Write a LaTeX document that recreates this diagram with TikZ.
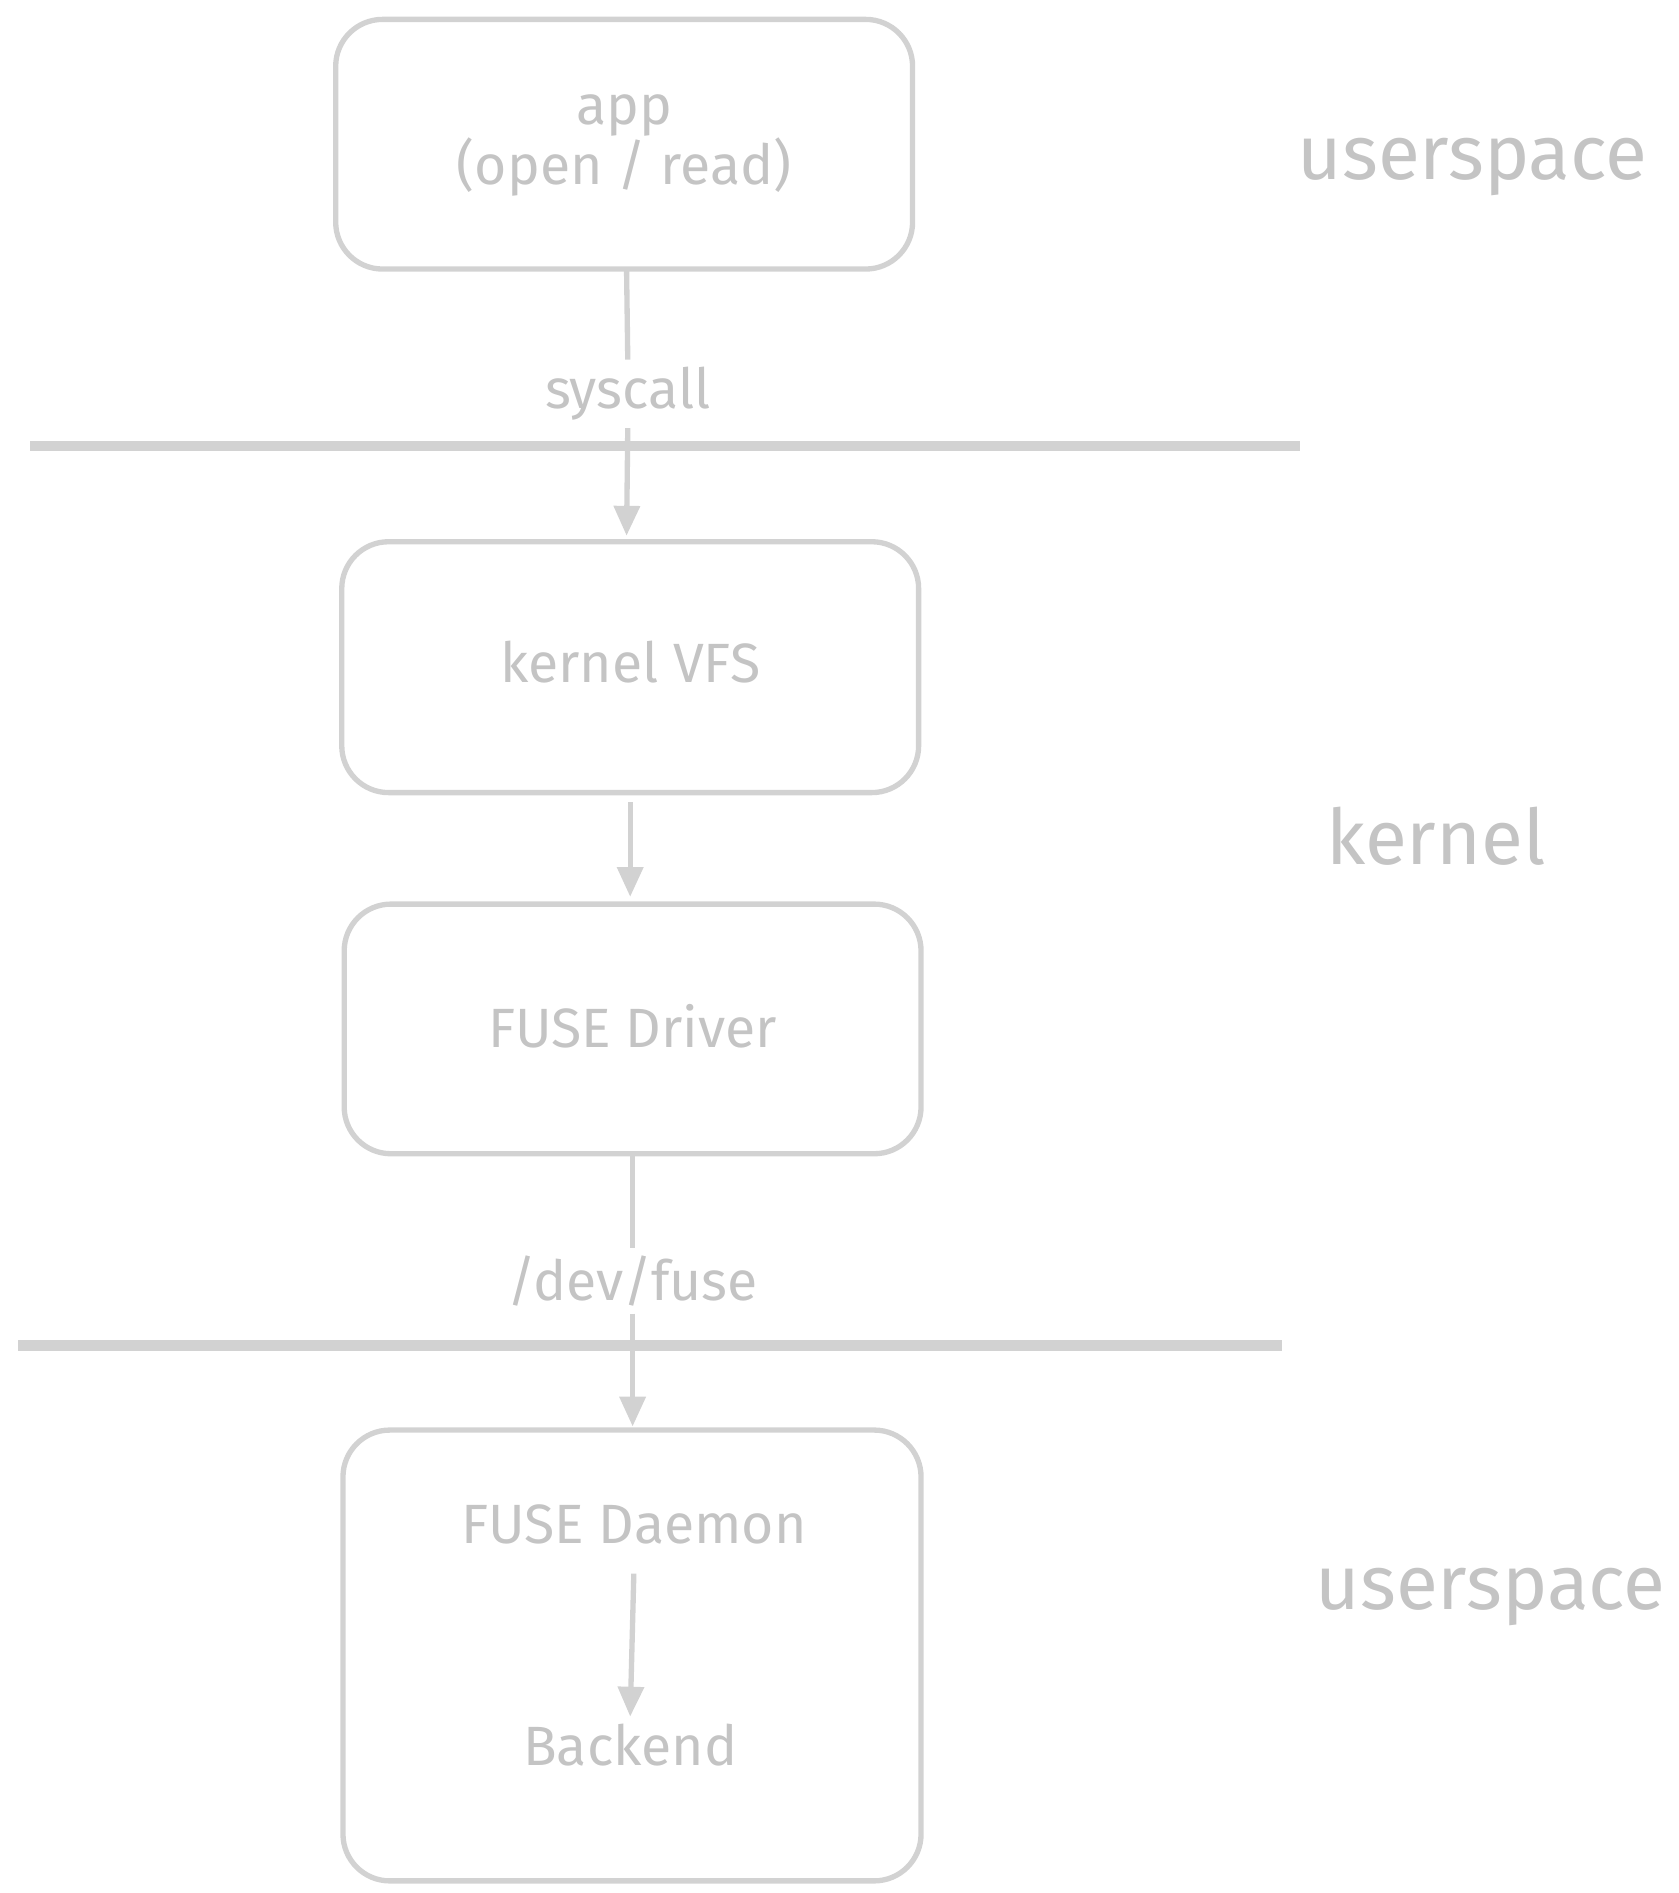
\documentclass[tikz,border=0pt]{standalone}
\usepackage{fontspec}
\setmainfont{Fira Sans}
\usepackage{tikz}
\usetikzlibrary{arrows.meta}
\definecolor{sketch}{HTML}{D2D2D2}
\definecolor{ink}{HTML}{C4C4C4}

\tikzset{
  box/.style={draw=sketch, line width=2.5pt, rounded corners=22pt, anchor=north west},
  lbl/.style={text=ink, font=\fontsize{26}{32}\selectfont, align=center},
  side/.style={text=ink, font=\fontsize{36}{40}\selectfont},
  flow/.style={draw=sketch, line width=2.5pt},
  arr/.style={flow, -{Triangle[length=14pt,width=12pt]}},
  layer/.style={draw=sketch, line width=5pt}
}

\begin{document}
\begin{tikzpicture}[x=0.02cm, y=-0.02cm]
\useasboundingbox (0,0) rectangle (1385,1562);

% boxes
\draw[box] (277,16) rectangle (753,222);
\draw[box] (282,447) rectangle (758,654);
\draw[box] (284,746) rectangle (760,952);
\draw[box] (283,1180) rectangle (760,1552);

\path
(515,120) node[lbl](app) {app\\[-4pt](open / read)}
(520,546) node[lbl](vfs) {kernel VFS}
(522,847) node[lbl](driver) {FUSE Driver}
(523,1258) node[lbl](daemon) {FUSE Daemon}
(520,1440) node[lbl](backend) {Backend}
(518,325) node[lbl](syscall) {syscall}
(522,1057) node[lbl](devfuse) {/dev/fuse};

%% layer names
\path
(1215,138) node[side](usertop) {userspace}
(1185,690) node[side](kern) {kernel}
(1230,1318) node[side](userbot) {userspace};

%% layer borders
\draw[layer] (25,368) -- (1073,368);
\draw[layer] (15,1110) -- (1058,1110);

%% connectors
\coordinate (appbot) at (517,222);
\coordinate (vfstop) at (517,442);
\coordinate (vfsbot) at (520,662);
\coordinate (drvtop) at (520,740);
\coordinate (drvbot) at (522,952);
\coordinate (dmntop) at (522,1177);
\draw[flow] (appbot) -- (syscall.north);
\draw[arr] (syscall.south) -- (vfstop);
\draw[arr] (vfsbot) -- (drvtop);
\draw[flow] (drvbot) -- (devfuse.north);
\draw[arr] (devfuse.south) -- (dmntop);
\draw[arr] (daemon.south) ++(0,18) coordinate (d1) (d1) -- (backend.north);

\end{tikzpicture}
\end{document}
